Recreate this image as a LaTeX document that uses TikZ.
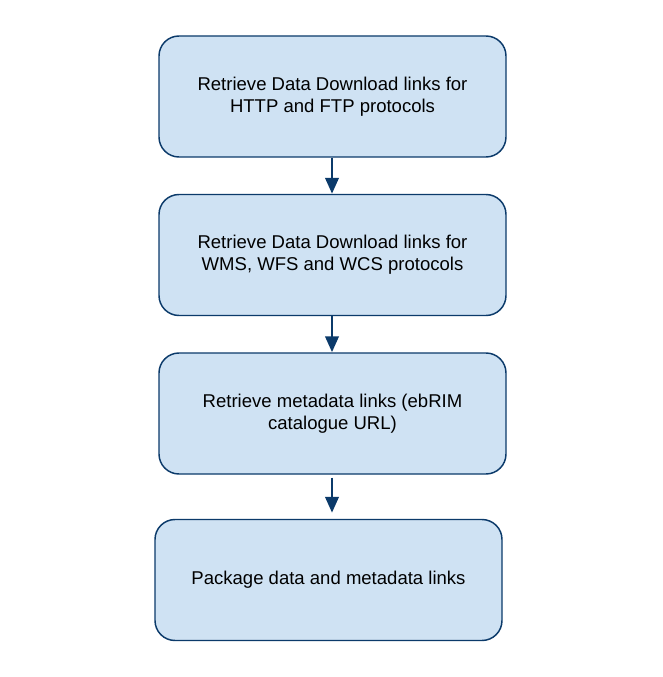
\documentclass[tikz,border=0pt]{standalone}
\usepackage{fontspec}
\setmainfont{Liberation Sans}
\usetikzlibrary{arrows.meta}
\definecolor{boxfill}{HTML}{CFE2F3}
\definecolor{boxline}{HTML}{0B3A6A}
\begin{document}
\begin{tikzpicture}[x=0.75pt,y=-0.75pt,
  stepbox/.style={draw=boxline, fill=boxfill, line width=1.1pt, rounded corners=15pt,
    minimum width=347*0.75pt, minimum height=121*0.75pt, align=center,
    font=\fontsize{13.9}{16.5}\selectfont, inner sep=0pt},
  flow/.style={draw=boxline, line width=2.2pt,
    -{Triangle[length=12pt,width=10pt]}}]
\useasboundingbox[fill=white] (0,0) rectangle (662,677);
\node[stepbox] (a) at (332.5,96.5) {Retrieve Data Download links for\\HTTP and FTP protocols};
\node[stepbox] (b) at (332.5,255) {Retrieve Data Download links for\\WMS, WFS and WCS protocols};
\node[stepbox] (c) at (332.5,413.5) {Retrieve metadata links (ebRIM\\catalogue URL)};
\node[stepbox] (d) at (328.5,580) {Package data and metadata links};
\draw[flow] (a.south -| 332,0) -- (b.north -| 332,0);
\draw[flow] (b.south -| 332,0) -- (c.north -| 332,0);
\draw[flow, shorten <=2.25pt, shorten >=4.5pt] (c.south -| 332,0) -- (d.north -| 332,0);
\end{tikzpicture}
\end{document}
